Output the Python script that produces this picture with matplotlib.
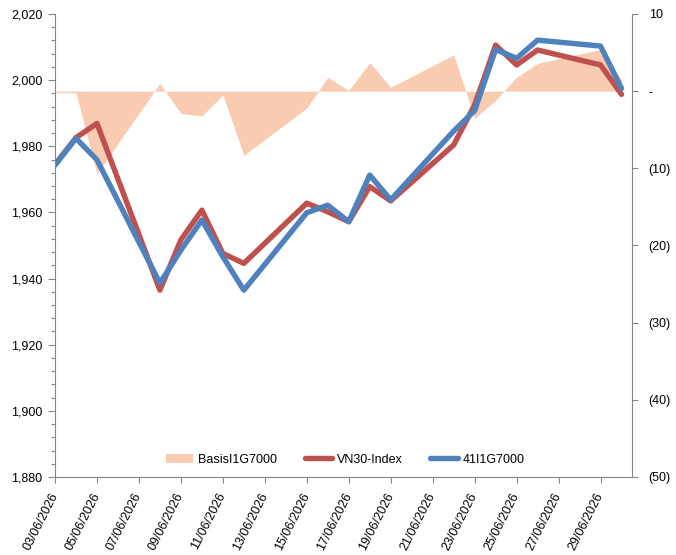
import numpy as np
import pandas as pd
import matplotlib
matplotlib.use('Agg')
import matplotlib.pyplot as plt
import matplotlib.dates as mdates
from matplotlib.ticker import FuncFormatter, MultipleLocator
from matplotlib.patches import Patch
from matplotlib.lines import Line2D

plt.rcParams['font.family'] = ['Liberation Sans', 'DejaVu Sans']

# data
dates = pd.to_datetime(['2026-06-03', '2026-06-04', '2026-06-05', '2026-06-08', '2026-06-09',
                        '2026-06-10', '2026-06-11', '2026-06-12', '2026-06-15', '2026-06-16',
                        '2026-06-17', '2026-06-18', '2026-06-19', '2026-06-22', '2026-06-23',
                        '2026-06-24', '2026-06-25', '2026-06-26', '2026-06-29', '2026-06-30'])
vn30 = [1974.5, 1982.6, 1986.9, 1936.5, 1951.7, 1960.7, 1947.6, 1944.6, 1962.8, 1960.2,
        1957.2, 1967.8, 1963.5, 1980.4, 1992.5, 2010.6, 2004.6, 2009.1, 2004.6, 1995.7]
fut = [1974.3, 1982.4, 1975.9, 1938.6, 1948.6, 1957.7, 1946.6, 1936.5, 1959.9, 1962.2,
       1957.2, 1971.3, 1963.8, 1984.6, 1990.8, 2009.3, 2006.6, 2012.1, 2010.3, 1997.5]
basis = [-0.2, -0.2, -10.7, 1.0, -2.9, -3.2, -0.5, -8.3, -2.2, 1.8,
         0.1, 3.7, 0.5, 4.7, -3.5, -1.2, 1.8, 3.6, 5.4, 1.5]
tick_dates = pd.date_range('2026-06-03', '2026-06-29', freq='2D')

c_basis = '#F9CBB0'
c_red = '#C0504D'
c_blue = '#4F81BD'
c_axis = '#868686'
fs = 9

fig = plt.figure(figsize=(6.76, 5.55), dpi=100)
ax = fig.add_axes([55/676, 1-477/555, (632-55)/676, (477-14)/555])
ax2 = ax.twinx()

# basis area on right axis, behind lines
ax2.fill_between(dates, basis, 0, color=c_basis, linewidth=0)
ax2.set_ylim(-50, 10)
ax2.yaxis.set_major_locator(MultipleLocator(10))
ax2.yaxis.set_major_formatter(FuncFormatter(
    lambda v, p: '-' if abs(v) < 1e-9 else (f'({abs(v):.0f})' if v < 0 else f'{v:.0f}')))

ax.set_zorder(ax2.get_zorder() + 1)
ax.patch.set_visible(False)

ax.plot(dates, vn30, color=c_red, lw=3.9, solid_joinstyle='round', solid_capstyle='round')
ax.plot(dates, fut, color=c_blue, lw=3.9, solid_joinstyle='round', solid_capstyle='round')

ax.set_ylim(1880, 2020)
ax.yaxis.set_major_locator(MultipleLocator(20))
ax.yaxis.set_minor_locator(MultipleLocator(4))
ax.yaxis.set_major_formatter(FuncFormatter(lambda v, p: f'{v:,.0f}'))

ax.set_xlim(dates[0], dates[-1] + pd.Timedelta(hours=12))
ax.set_xticks(tick_dates)
ax.xaxis.set_major_formatter(mdates.DateFormatter('%d/%m/%Y'))
for lbl in ax.get_xticklabels():
    lbl.set_rotation(63)
    lbl.set_ha('right')
    lbl.set_va('center')
    lbl.set_rotation_mode('anchor')

for a in (ax, ax2):
    for s in a.spines.values():
        s.set_color(c_axis)
        s.set_linewidth(0.8)
    a.spines['top'].set_visible(False)
ax.spines['right'].set_visible(False)
ax2.spines['left'].set_visible(False)
ax2.spines['bottom'].set_visible(False)

ax.tick_params(axis='y', which='major', length=5, width=0.8, color=c_axis, labelsize=fs, pad=4)
ax.tick_params(axis='y', which='minor', length=3, width=0.8, color=c_axis)
ax.tick_params(axis='x', length=4, width=0.8, color=c_axis, labelsize=fs, pad=8)
ax2.tick_params(axis='y', length=4, width=0.8, color=c_axis, labelsize=fs, pad=8)

handles = [Patch(facecolor=c_basis, edgecolor='none'),
           Line2D([], [], color=c_red, lw=3.9, solid_capstyle='round'),
           Line2D([], [], color=c_blue, lw=3.9, solid_capstyle='round')]
ax.legend(handles, ['BasisI1G7000', 'VN30-Index', '41I1G7000'], loc='center',
          bbox_to_anchor=(0.503, 0.037), ncol=3, frameon=False, fontsize=fs,
          handlelength=2.2, handletextpad=0.4, columnspacing=2.2)

fig.savefig('out.png', dpi=100)
